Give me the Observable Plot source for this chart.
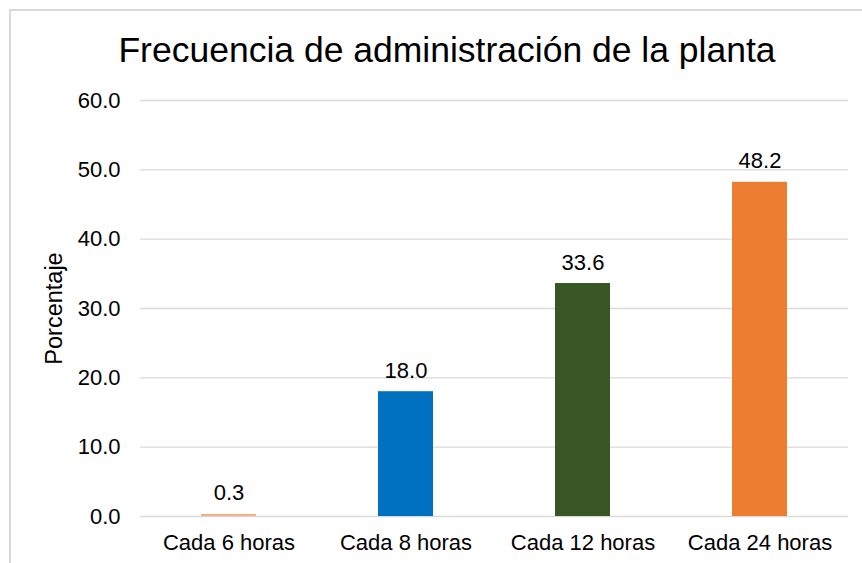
<!DOCTYPE html>
<html>
<head>
<meta charset="utf-8">
<script src="https://cdn.jsdelivr.net/npm/d3@7"></script>
<script src="https://cdn.jsdelivr.net/npm/@observablehq/plot@0.6"></script>
<style>
  html, body { margin: 0; padding: 0; background: #fff; }
  body { width: 862px; height: 563px; overflow: hidden; font-family: "Liberation Sans", Arial, sans-serif; }
  #frame { position: absolute; left: 9px; top: 9px; width: 900px; height: 600px; border-top: 2px solid #d9d9d9; border-left: 2px solid #d9d9d9; box-sizing: border-box; }
  #wrap { position: absolute; left: 0; top: 0; width: 862px; }
  #title { height: 80px; line-height: 80px; text-align: center; font-size: 35.5px; color: #000; padding-left: 32px; box-sizing: border-box; padding-top: 10px; white-space: nowrap; }
</style>
</head>
<body>
<div id="frame"></div>
<div id="wrap">
  <div id="title">Frecuencia de administración de la planta</div>
  <div id="chart"></div>
</div>
<script>
const categories = ["Cada 6 horas", "Cada 8 horas", "Cada 12 horas", "Cada 24 horas"];
const values = [0.3, 18.0, 33.6, 48.2];
const colors = ["#F4B183", "#0070C0", "#375623", "#ED7D31"];
const yTicks = [0, 10, 20, 30, 40, 50, 60];
const yLabel = "Porcentaje";

const data = categories.map((c, i) => ({category: c, value: values[i], color: colors[i]}));

const chart = Plot.plot({
  width: 862,
  height: 483,
  marginTop: 20,
  marginBottom: 47,
  marginLeft: 140,
  marginRight: 14,
  style: {fontFamily: "'Liberation Sans', Arial, sans-serif", fontSize: "22px", color: "#000", background: "transparent", overflow: "visible"},
  x: {domain: categories, paddingInner: 0.69, paddingOuter: 0.345, label: null, tickSize: 0, tickPadding: 18},
  y: {domain: [0, 60], ticks: yTicks, tickFormat: d3.format(".1f"), tickSize: 0, tickPadding: 20, label: null},
  marks: [
    Plot.gridY(yTicks, {stroke: "#d9d9d9", strokeOpacity: 1, strokeWidth: 1.3}),
    Plot.barY(data, {x: "category", y: "value", fill: "color"}),
    Plot.text(data, {x: "category", y: "value", text: d => d3.format(".1f")(d.value), dy: -14, lineAnchor: "bottom", fontSize: 22, fill: "#000"}),
    Plot.text([yLabel], {text: d => d, frameAnchor: "left", textAnchor: "middle", lineAnchor: "middle", rotate: -90, dx: -86, fontSize: 23.5, fill: "#000"})
  ]
});
document.getElementById("chart").appendChild(chart);
</script>
</body>
</html>
